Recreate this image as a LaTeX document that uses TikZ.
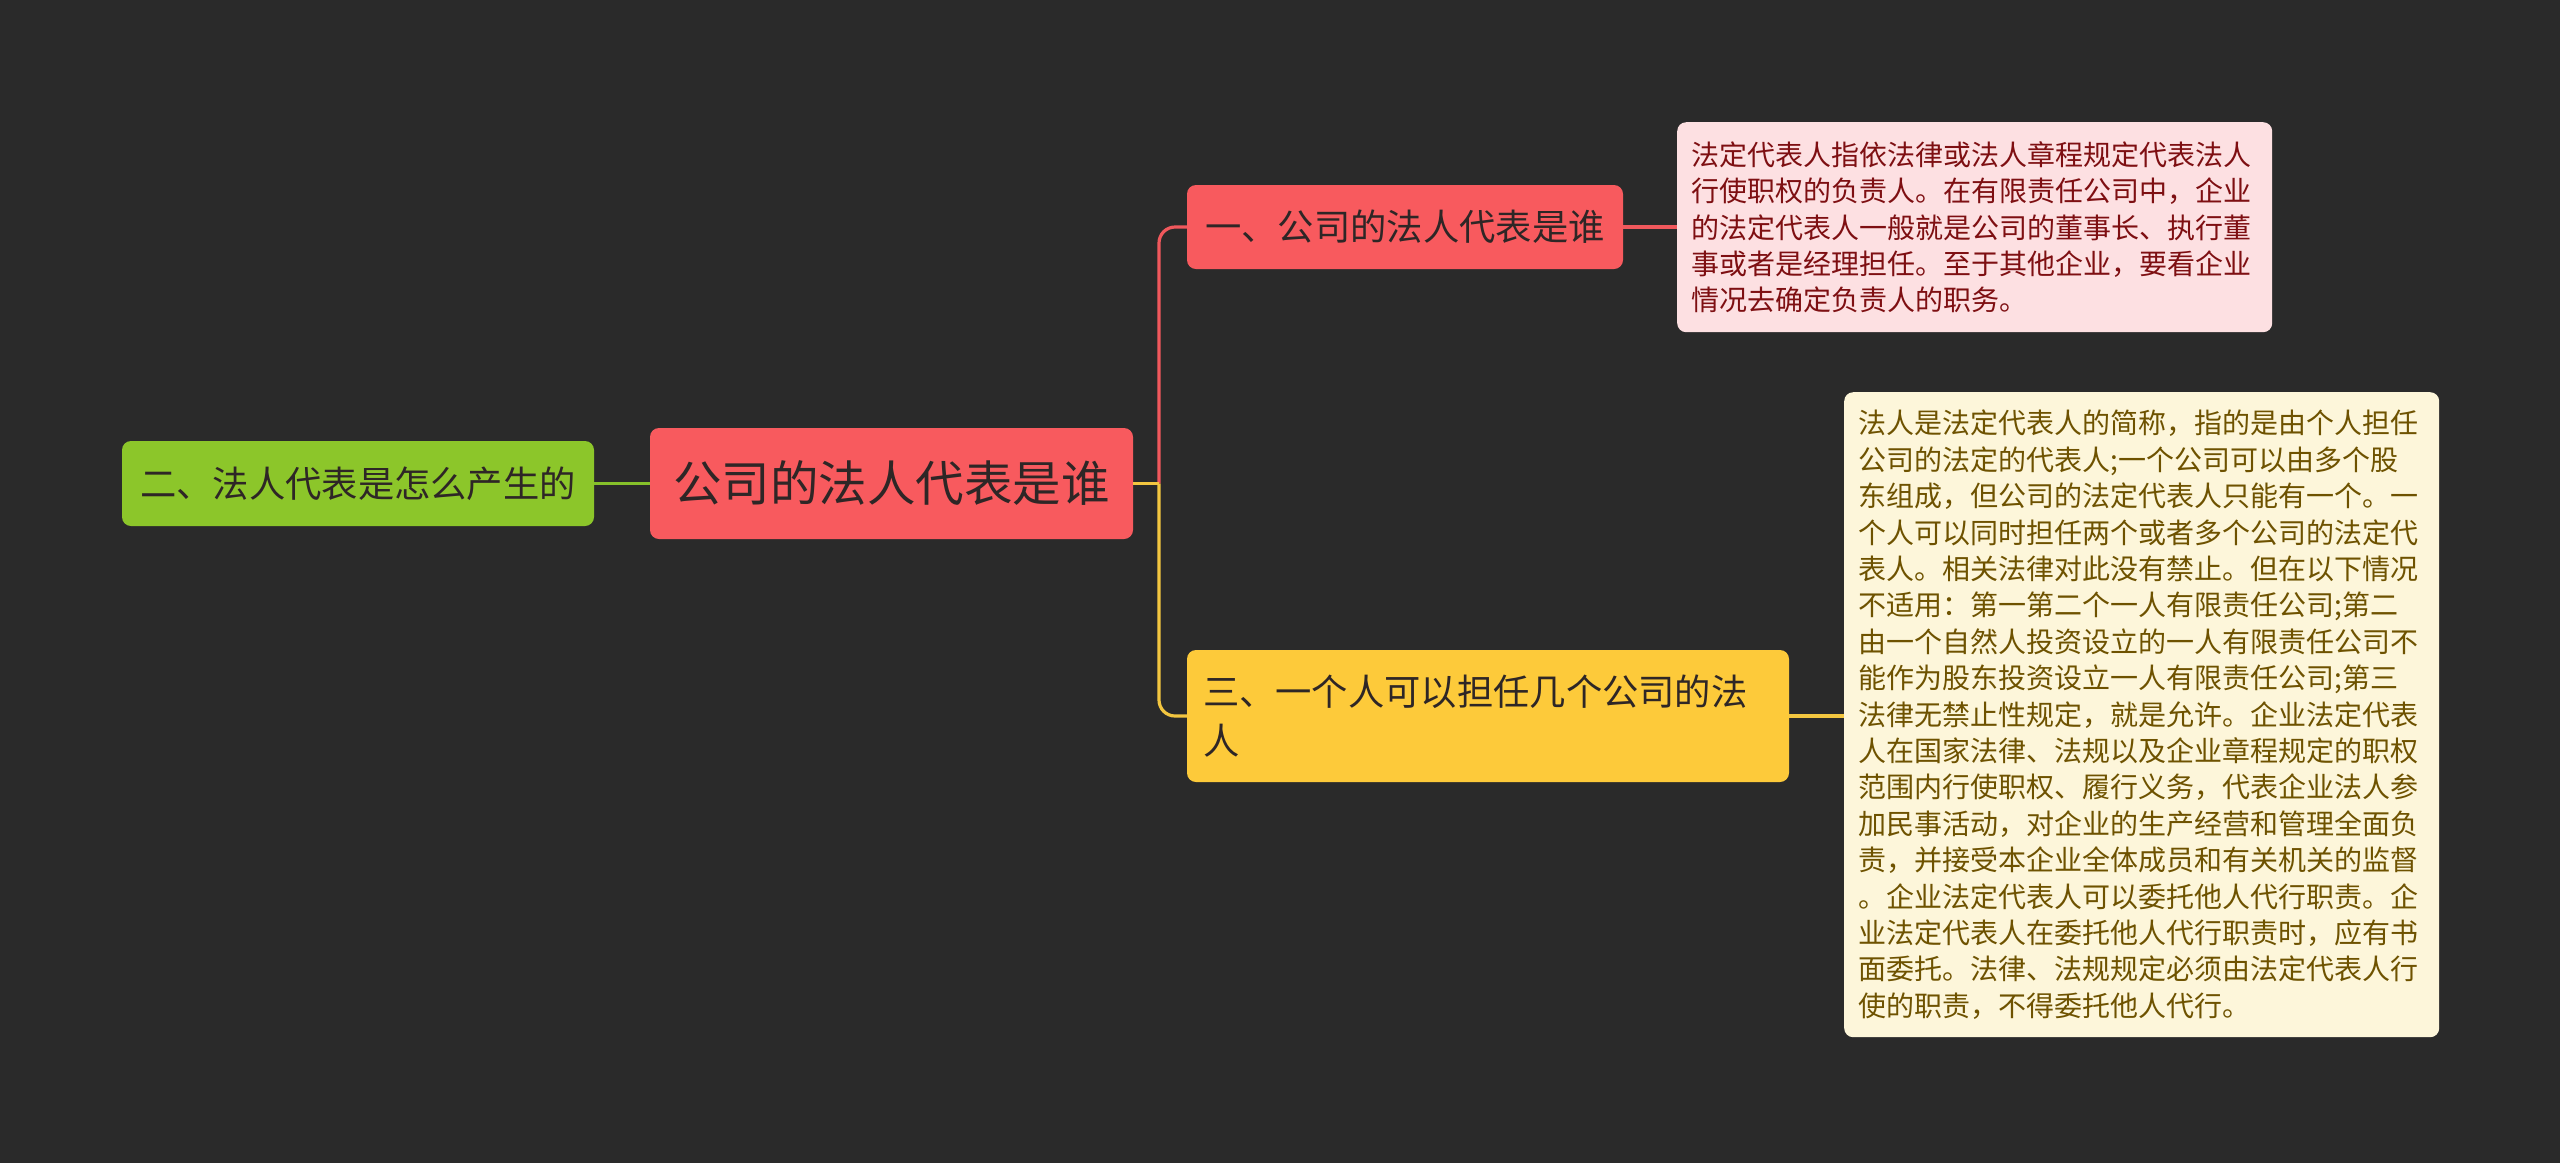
\documentclass[tikz,border=0pt]{standalone}
\usepackage{fontspec}
\setmainfont{Noto Sans CJK SC}
\definecolor{bg}{HTML}{2A2A2A}
\definecolor{rootred}{HTML}{F85A5E}
\definecolor{leafgreen}{HTML}{8CC62A}
\definecolor{leafyellow}{HTML}{FDCA3A}
\definecolor{nodetext}{HTML}{2E2626}
\definecolor{pinkfill}{HTML}{FDE0E2}
\definecolor{pinktext}{HTML}{7E0F12}
\definecolor{creamfill}{HTML}{FDF6DA}
\definecolor{creamtext}{HTML}{6E5200}
\definecolor{redline}{HTML}{F0585C}
\definecolor{yellowline}{HTML}{F3C640}
\definecolor{greenline}{HTML}{86C12A}
\tikzset{
  topic/.style={rectangle, rounded corners=9pt, inner sep=0pt, text=nodetext, align=center},
  detail/.style={rectangle, rounded corners=9pt, inner xsep=14pt, inner ysep=14pt, align=left, anchor=north west},
  conn/.style={line width=3.2pt}
}
\begin{document}
\begin{tikzpicture}[x=1pt,y=-1pt]
\useasboundingbox (0,0) rectangle (2560,1163);
\fill[bg] (0,0) rectangle (2560,1163);

% topics
\node[topic, fill=rootred, minimum width=483pt, minimum height=111pt,
      font=\fontsize{48.5}{56}\selectfont] (root) at (891.5,483.5) {公司的法人代表是谁};
\node[topic, fill=leafgreen, minimum width=472pt, minimum height=85pt,
      font=\fontsize{36.3}{44}\selectfont] (sub2) at (358,483.5) {二、法人代表是怎么产生的};
\node[topic, fill=rootred, minimum width=436pt, minimum height=84pt,
      font=\fontsize{36.3}{44}\selectfont] (sub1) at (1405,227) {一、公司的法人代表是谁};
\node[topic, fill=leafyellow, minimum width=602pt, minimum height=132pt, text width=570pt,
      align=left, font=\fontsize{36.3}{49}\selectfont] (sub3) at (1488,716)
      {三、一个人可以担任几个公司的法\\人};

% details
\node[detail, fill=pinkfill, text=pinktext, text width=567pt, minimum height=210pt,
      font=\fontsize{28}{36.2}\selectfont] (d1) at (1677,122)
{法定代表人指依法律或法人章程规定代表法人\\
行使职权的负责人。在有限责任公司中，企业\\
的法定代表人一般就是公司的董事长、执行董\\
事或者是经理担任。至于其他企业，要看企业\\
情况去确定负责人的职务。};

\node[detail, fill=creamfill, text=creamtext, text width=567pt, minimum height=645pt,
      font=\fontsize{28}{36.4}\selectfont] (d3) at (1844,392)
{法人是法定代表人的简称，指的是由个人担任\\
公司的法定的代表人;一个公司可以由多个股\\
东组成，但公司的法定代表人只能有一个。一\\
个人可以同时担任两个或者多个公司的法定代\\
表人。相关法律对此没有禁止。但在以下情况\\
不适用：第一第二个一人有限责任公司;第二\\
由一个自然人投资设立的一人有限责任公司不\\
能作为股东投资设立一人有限责任公司;第三\\
法律无禁止性规定，就是允许。企业法定代表\\
人在国家法律、法规以及企业章程规定的职权\\
范围内行使职权、履行义务，代表企业法人参\\
加民事活动，对企业的生产经营和管理全面负\\
责，并接受本企业全体成员和有关机关的监督\\
。企业法定代表人可以委托他人代行职责。企\\
业法定代表人在委托他人代行职责时，应有书\\
面委托。法律、法规规定必须由法定代表人行\\
使的职责，不得委托他人代行。};

% connectors
\coordinate (j) at (1159,483.5);
\draw[conn, greenline] (sub2.east) -- (root.west);
\draw[conn, redline, rounded corners=16pt] (j) |- (sub1.west);
\draw[conn, yellowline, rounded corners=16pt] (j) |- (sub3.west);
\draw[conn, yellowline] (root.east) -- (j);
\draw[conn, redline] (sub1.east) -- (sub1.east -| d1.west);
\draw[conn, yellowline] (sub3.east) -- (sub3.east -| d3.west);
\end{tikzpicture}
\end{document}
